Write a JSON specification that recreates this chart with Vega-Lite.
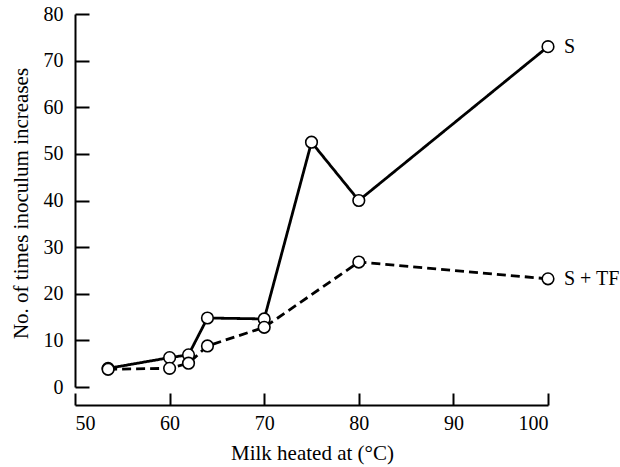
{
  "$schema": "https://vega.github.io/schema/vega-lite/v6.json",
  "width": 473,
  "height": 373,
  "autosize": {"type": "none"},
  "padding": {"left": 75, "top": 14, "right": 72, "bottom": 80},
  "background": "white",
  "config": {
    "view": {"stroke": null},
    "font": "Liberation Serif, Times New Roman, serif",
    "axis": {
      "grid": false,
      "domainColor": "black",
      "domainWidth": 2,
      "tickColor": "black",
      "tickWidth": 2,
      "labelColor": "black",
      "labelFont": "Liberation Serif, Times New Roman, serif",
      "labelFontSize": 20,
      "titleColor": "black",
      "titleFont": "Liberation Serif, Times New Roman, serif",
      "titleFontSize": 21,
      "titleFontWeight": "normal"
    }
  },
  "data": {
    "values": [
      {"temp": 53.5, "value": 4.0, "series": "S"},
      {"temp": 60, "value": 6.3, "series": "S"},
      {"temp": 62, "value": 6.9, "series": "S"},
      {"temp": 64, "value": 14.8, "series": "S"},
      {"temp": 70, "value": 14.6, "series": "S"},
      {"temp": 75, "value": 52.5, "series": "S"},
      {"temp": 80, "value": 40.0, "series": "S"},
      {"temp": 100, "value": 73.0, "series": "S"},
      {"temp": 53.5, "value": 3.8, "series": "S + TF"},
      {"temp": 60, "value": 4.0, "series": "S + TF"},
      {"temp": 62, "value": 5.1, "series": "S + TF"},
      {"temp": 64, "value": 8.8, "series": "S + TF"},
      {"temp": 70, "value": 12.8, "series": "S + TF"},
      {"temp": 80, "value": 26.8, "series": "S + TF"},
      {"temp": 100, "value": 23.2, "series": "S + TF"}
    ]
  },
  "encoding": {
    "x": {
      "field": "temp",
      "type": "quantitative",
      "scale": {"domain": [50, 100], "nice": false, "zero": false},
      "axis": {
        "values": [50, 60, 70, 80, 90, 100],
        "title": "Milk heated at (°C)",
        "offset": 18,
        "tickSize": -12,
        "labelPadding": 20,
        "titleBaseline": "alphabetic",
        "titleX": 237,
        "titleY": 54
      }
    },
    "y": {
      "field": "value",
      "type": "quantitative",
      "scale": {"domain": [0, 80], "nice": false},
      "axis": {
        "values": [0, 10, 20, 30, 40, 50, 60, 70, 80],
        "title": "No. of times inoculum increases",
        "tickSize": -14,
        "labelPadding": 26,
        "titleBaseline": "alphabetic",
        "titleX": -48,
        "titleY": 189
      }
    }
  },
  "layer": [
    {
      "mark": {"type": "line", "color": "black", "strokeWidth": 2.8},
      "encoding": {
        "detail": {"field": "series"},
        "strokeDash": {
          "field": "series",
          "type": "nominal",
          "scale": {"domain": ["S", "S + TF"], "range": [[1, 0], [9, 5]]},
          "legend": null
        }
      }
    },
    {
      "mark": {"type": "point", "shape": "circle", "filled": false, "fill": "white", "fillOpacity": 1, "stroke": "black", "strokeWidth": 1.6, "size": 135, "opacity": 1}
    },
    {
      "transform": [{"filter": "datum.temp == 100"}],
      "mark": {"type": "text", "align": "left", "baseline": "middle", "dx": 16, "font": "Liberation Serif, Times New Roman, serif", "fontSize": 20, "color": "black"},
      "encoding": {"text": {"field": "series"}}
    }
  ]
}
